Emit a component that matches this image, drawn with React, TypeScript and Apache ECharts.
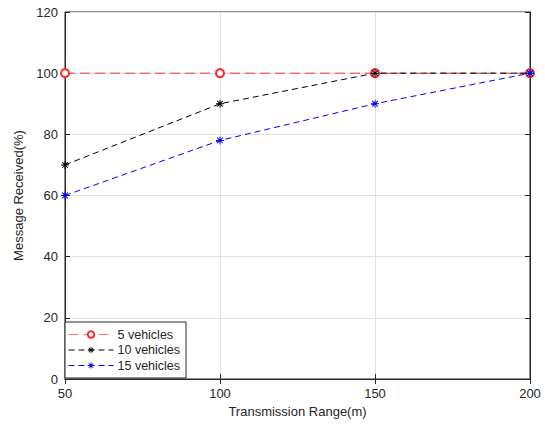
import React, { useEffect, useRef } from "react";
import * as echarts from "echarts";

const ranges = [50, 100, 150, 200];
const veh5 = [100, 100, 100, 100];
const veh10 = [70, 90, 100, 100];
const veh15 = [60, 78, 90, 100];
const seriesNames = ["5 vehicles", "10 vehicles", "15 vehicles"];

const FONT = "Arial, 'Liberation Sans', Helvetica, sans-serif";
const STAR =
  "path://M-0.6,-5L0.6,-5L0.6,5L-0.6,5Z" +
  "M-5,-0.6L5,-0.6L5,0.6L-5,0.6Z" +
  "M-3.96,-3.12L-3.12,-3.96L3.96,3.12L3.12,3.96Z" +
  "M-3.12,3.96L-3.96,3.12L3.12,-3.96L3.96,-3.12Z";

export default function App() {
  const ref = useRef<HTMLDivElement>(null);
  useEffect(() => {
    if (!ref.current) return;
    const chart = echarts.init(ref.current, undefined, { renderer: "svg" });
    const pairs = (vals: number[]) => ranges.map((x, i) => [x, vals[i]]);
    const axisCommon = {
      axisLine: { show: true, lineStyle: { color: "#262626", width: 1 } },
      axisTick: { show: true, inside: true, length: 5, lineStyle: { color: "#262626" } },
    };
    const colors = ["#ff2a2a", "#000000", "#0000ff"];
    chart.setOption({
      animation: false,
      backgroundColor: "#ffffff",
      textStyle: { fontFamily: FONT },
      grid: {
        left: 65,
        right: 15,
        top: 12,
        bottom: 47,
        show: true,
        borderColor: "#262626",
        borderWidth: 1,
      },
      legend: {
        orient: "vertical",
        left: 65,
        bottom: 48,
        data: seriesNames,
        backgroundColor: "#ffffff",
        borderColor: "#262626",
        borderWidth: 1,
        borderRadius: 0,
        padding: [6, 6, 6, 3],
        itemGap: 2.5,
        itemWidth: 45,
        itemHeight: 8,
        lineStyle: { width: 1 },
        textStyle: { fontSize: 12.5, color: "#262626", fontFamily: FONT, padding: [0, 0, 0, -1] },
      },
      xAxis: [
        {
          type: "value",
          min: 50,
          max: 200,
          interval: 50,
          name: "Transmission Range(m)",
          nameLocation: "middle",
          nameGap: 23,
          nameTextStyle: { fontSize: 13, color: "#262626" },
          axisLabel: { fontSize: 13, color: "#262626", margin: 8 },
          splitLine: { show: true, lineStyle: { color: "#e0e0e0", width: 1 } },
          ...axisCommon,
        },
        {
          type: "value",
          position: "top",
          min: 50,
          max: 200,
          interval: 50,
          axisLabel: { show: false },
          splitLine: { show: false },
          ...axisCommon,
        },
      ],
      yAxis: [
        {
          type: "value",
          min: 0,
          max: 120,
          interval: 20,
          name: "Message Received(%)",
          nameLocation: "middle",
          nameGap: 37,
          nameTextStyle: { fontSize: 13, color: "#262626" },
          axisLabel: { fontSize: 13, color: "#262626", margin: 7 },
          splitLine: { show: true, lineStyle: { color: "#e0e0e0", width: 1 } },
          ...axisCommon,
        },
        {
          type: "value",
          position: "right",
          min: 0,
          max: 120,
          interval: 20,
          axisLabel: { show: false },
          splitLine: { show: false },
          ...axisCommon,
        },
      ],
      series: [
        {
          name: seriesNames[0],
          type: "line",
          data: pairs(veh5),
          symbol: "emptyCircle",
          symbolSize: 8,
          itemStyle: { color: colors[0], borderWidth: 1 },
          lineStyle: { color: "rgba(255,40,40,0.65)", width: 1.5, type: [10, 5] },
          z: 1,
        },
        {
          name: seriesNames[1],
          type: "line",
          data: pairs(veh10),
          symbol: STAR,
          symbolSize: 8,
          itemStyle: { color: colors[1], borderWidth: 0 },
          lineStyle: { color: colors[1], width: 1, type: [6, 4] },
          z: 2,
        },
        {
          name: seriesNames[2],
          type: "line",
          data: pairs(veh15),
          symbol: STAR,
          symbolSize: 8,
          itemStyle: { color: colors[2], borderWidth: 0 },
          lineStyle: { color: colors[2], width: 1, type: [6, 4] },
          z: 3,
        },
      ],
    });
    return () => chart.dispose();
  }, []);
  return (
    <div
      ref={ref}
      style={{ position: "fixed", left: 0, top: 0, width: 545, height: 426, background: "#fff" }}
    />
  );
}
